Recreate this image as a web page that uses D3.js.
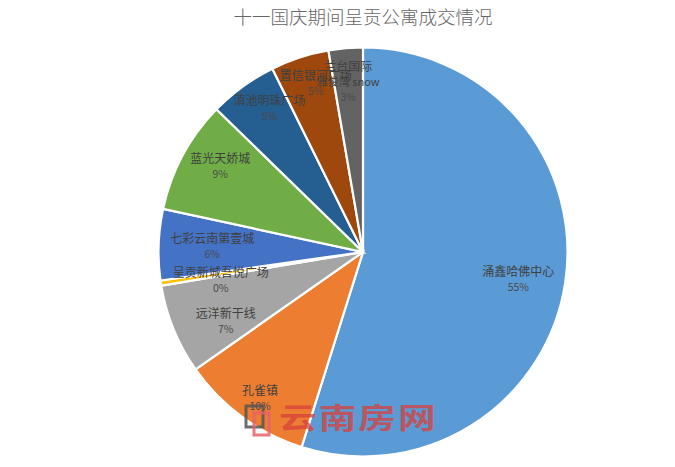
<!DOCTYPE html>
<html><head><meta charset="utf-8">
<script src="https://cdnjs.cloudflare.com/ajax/libs/d3/7.8.5/d3.min.js"></script>
<style>html,body{margin:0;padding:0;background:#fff}svg{display:block}text{font-family:"Noto Sans CJK SC","Noto Sans",sans-serif}</style>
</head><body><svg id="c" width="675" height="467"></svg>
<script>
const chartTitle = "十一国庆期间呈贡公寓成交情况";
const categories = ["涌鑫哈佛中心","孔雀镇","远洋新干线","呈贡新城吾悦广场","七彩云南第壹城","蓝光天娇城","滇池明珠广场","置信银河广场","兰台国际\n雅俊湾 snow"];
const values = [54.8,10.4,7.1,0.4,5.6,8.9,5.4,4.6,2.7];
const percentLabels = ["55%","10%","7%","0%","6%","9%","5%","5%","3%"];
const colors = ["#5B9BD5","#ED7D31","#A5A5A5","#FFC000","#4472C4","#70AD47","#255E91","#9E480E","#636363"];
// label placement relative to the slice centroid (layout only)
const labelOffsets = [[30,8],[-28,44],[-20,21],[-17,9],[-24,-1],[-31,-26],[-19,-41],[-8,-48],[-4,-44]];
const watermark = "云南房网";

const svg = d3.select("#c");
const cx = 363, cy = 252, R = 204.5;
const g = svg.append("g").attr("transform",`translate(${cx},${cy})`);
const pie = d3.pie().sort(null)(values);
const arc = d3.arc().innerRadius(0).outerRadius(R);
const lab = d3.arc().innerRadius(R*0.62).outerRadius(R*0.62);

g.selectAll("path").data(pie).join("path")
 .attr("d",arc).attr("fill",(d,i)=>colors[i]).attr("stroke","#fff").attr("stroke-width",2.2);

svg.append("text").attr("x",363).attr("y",24).attr("text-anchor","middle")
 .attr("font-size",18.5).attr("font-weight",300).attr("fill","#666").text(chartTitle);

const labels = g.selectAll("g.l").data(pie).join("g").attr("class","l")
 .attr("transform",(d,i)=>{const c=lab.centroid(d);return `translate(${c[0]+labelOffsets[i][0]},${c[1]+labelOffsets[i][1]})`;})
 .attr("text-anchor","middle").attr("fill","#404040");
labels.each(function(d,i){
  const lines = categories[i].split("\n").concat(percentLabels[i]);
  const s = d3.select(this);
  lines.forEach((t,k)=>s.append("text").attr("y",(k-(lines.length-1)/2)*15+4)
    .attr("font-size",/%$/.test(t)?10.5:(/snow/.test(t)?11:12)).attr("fill",/%$/.test(t)?"#4a4a4a":"#404040").text(t));
});

// watermark
const wm = svg.append("g");
wm.append("rect").attr("x",246).attr("y",406).attr("width",17).attr("height",21).attr("fill","none").attr("stroke","#555").attr("stroke-width",3).attr("opacity",.85);
wm.append("rect").attr("x",254).attr("y",413).attr("width",15).attr("height",22).attr("fill","none").attr("stroke","#e8606a").attr("stroke-width",3).attr("opacity",.85);
wm.append("text").attr("transform","translate(279,429) scale(1.3,1)").attr("font-size",29).attr("font-weight",700).attr("letter-spacing",1.5)
  .attr("fill","#d8403c").attr("opacity",.75).text(watermark);
</script></body></html>
